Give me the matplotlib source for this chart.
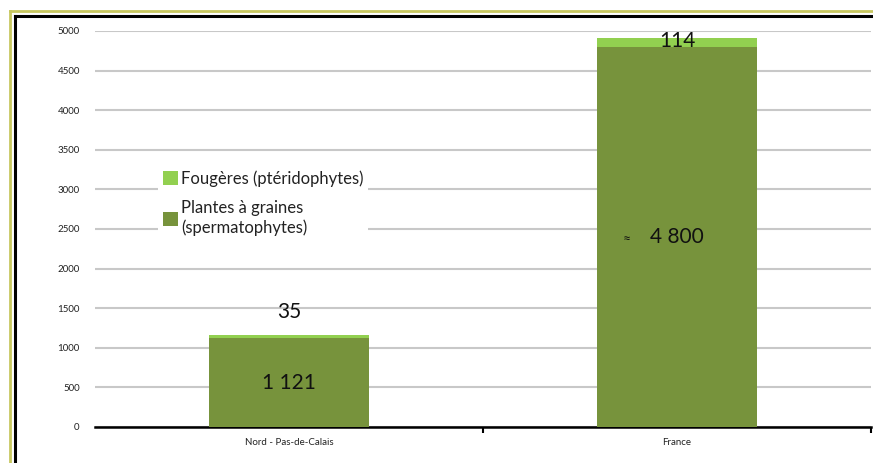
import matplotlib
matplotlib.use("Agg")
import matplotlib.pyplot as plt
from matplotlib.patches import Patch
from matplotlib.lines import Line2D

plt.rcParams['font.family'] = ['Lato', 'DejaVu Sans']

categories = ["Nord - Pas-de-Calais", "France"]
spermatophytes = [1121, 4800]
pteridophytes = [35, 114]
sperm_labels = ["1 121", "4 800"]
pter_labels = ["35", "114"]
yticks = [0, 500, 1000, 1500, 2000, 2500, 3000, 3500, 4000, 4500, 5000]

dark = "#77933C"
light = "#92D050"

fig = plt.figure(figsize=(8.73, 4.63), dpi=100)
ax = fig.add_axes([95/873, 1-427/463, (871-95)/873, (427-31)/463])

x = list(range(len(categories)))
w = 0.41
ax.bar(x, spermatophytes, width=w, color=dark, zorder=3)
ax.bar(x, pteridophytes, width=w, bottom=spermatophytes, color=light, zorder=3)

ax.set_ylim(0, 5000)
ax.set_xlim(-0.5, 1.5)
ax.set_yticks(yticks)
ax.set_yticklabels([str(v) for v in yticks], fontsize=7, color="#222222")
ax.yaxis.grid(True, color="#C8C8C8", linewidth=1.5, zorder=0)
ax.set_axisbelow(True)
ax.tick_params(axis='y', length=0, pad=11)
ax.set_xticks(x)
ax.set_xticklabels(categories, fontsize=7, color="#222222")
ax.tick_params(axis='x', length=0, pad=8)
ax.set_xticks([0.5, 1.5], minor=True)
ax.tick_params(axis='x', which='minor', length=4, width=1.5, color='black')
for s in ['left', 'right', 'top']:
    ax.spines[s].set_visible(False)
ax.spines['bottom'].set_linewidth(1.8)
ax.spines['bottom'].set_color('black')

# value labels
ax.text(0, spermatophytes[0] + pteridophytes[0] + 170, pter_labels[0],
        ha='center', va='bottom', fontsize=15, color="#111111", zorder=5)
ax.text(0, 550, sperm_labels[0], ha='center', va='center', fontsize=15,
        color="#111111", zorder=5)
ax.text(1, 4870, pter_labels[1], ha='center', va='center', fontsize=15,
        color="#111111", zorder=5)
ax.text(1.0, 2400, sperm_labels[1], ha='center', va='center', fontsize=15,
        color="#111111", zorder=5)
ax.text(0.87, 2380, "≈", ha='center', va='center', fontsize=10,
        color="#111111", zorder=5)

handles = [Patch(facecolor=light, edgecolor='none'),
           Patch(facecolor=dark, edgecolor='none')]
leg = ax.legend(handles, ["Fougères (ptéridophytes)", "Plantes à graines\n(spermatophytes)"],
                loc='upper left', bbox_to_anchor=(55/776, (427-157)/396),
                frameon=True, fontsize=12, handlelength=0.9, handleheight=0.9,
                handletextpad=0.15, labelspacing=0.8, borderpad=0.3,
                labelcolor="#222222")
leg.get_frame().set_facecolor('white')
leg.get_frame().set_edgecolor('none')
leg.get_frame().set_alpha(1)
leg.set_zorder(4)

# outer frame (left and top)
fig.add_artist(Line2D([10/873, 10/873], [0, 1-11/463], transform=fig.transFigure,
                      color="#C8C860", linewidth=2))
fig.add_artist(Line2D([10/873, 1], [1-11/463, 1-11/463], transform=fig.transFigure,
                      color="#C8C860", linewidth=2))
fig.add_artist(Line2D([15/873, 15/873], [0, 1-16/463], transform=fig.transFigure,
                      color="black", linewidth=2.2))
fig.add_artist(Line2D([15/873, 1], [1-16/463, 1-16/463], transform=fig.transFigure,
                      color="black", linewidth=2.2))

fig.savefig("out.png", dpi=100)
